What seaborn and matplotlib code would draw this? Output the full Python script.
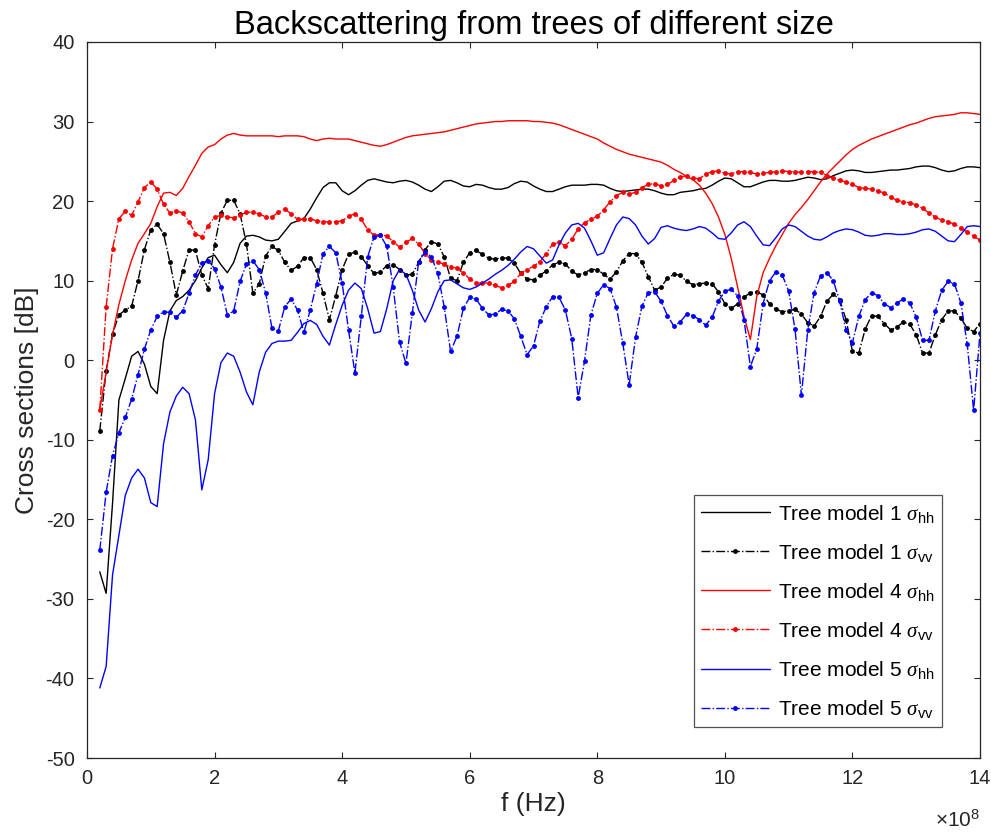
import numpy as np
import pandas as pd
import matplotlib
matplotlib.use("Agg")
import matplotlib.pyplot as plt
from matplotlib.ticker import FuncFormatter, MultipleLocator
import seaborn as sns

# Frequency grid (Hz): 0.2e8 ... 14e8 in steps of 0.1e8
freq = np.round(np.arange(2, 141) / 10.0, 1) * 1e8

tree1_hh = [-26.6, -29.3, -18.0, -5.0, -2.3, 0.5, 1.1, -0.5, -3.3, -4.2,
            2.5, 6.2, 7.5, 8.0, 8.8, 10.0, 11.6, 12.9, 13.2, 12.0,
            11.0, 12.3, 14.7, 15.6, 15.7, 15.5, 15.1, 15.0, 15.2, 16.2,
            17.2, 17.5, 17.8, 19.0, 20.4, 21.7, 22.3, 22.3, 21.3, 20.8,
            21.3, 22.0, 22.6, 22.8, 22.6, 22.4, 22.3, 22.5, 22.6, 22.4,
            22.0, 21.5, 21.2, 21.8, 22.5, 22.6, 22.3, 21.9, 21.8, 22.1,
            22.0, 21.7, 21.5, 21.5, 21.7, 22.2, 22.5, 22.4, 21.9, 21.5,
            21.2, 21.2, 21.5, 21.8, 22.0, 22.0, 22.0, 22.1, 22.1, 22.0,
            21.6, 21.3, 21.2, 21.3, 21.4, 21.5, 21.5, 21.3, 21.0, 20.8,
            20.8, 21.1, 21.2, 21.3, 21.5, 21.6, 22.0, 22.5, 22.9, 22.8,
            22.3, 21.8, 21.8, 22.1, 22.4, 22.6, 22.6, 22.5, 22.5, 22.6,
            22.8, 23.0, 22.9, 22.7, 22.8, 23.2, 23.5, 23.8, 23.9, 23.8,
            23.6, 23.6, 23.7, 23.8, 23.9, 23.9, 24.0, 24.1, 24.3, 24.4,
            24.4, 24.2, 23.9, 23.7, 23.8, 24.1, 24.3, 24.3, 24.2]

tree1_vv = [-8.9, -1.3, 3.3, 5.7, 6.3, 6.8, 10.0, 13.9, 16.4, 17.1,
            15.9, 12.3, 8.2, 11.2, 13.9, 13.8, 10.7, 9.0, 14.5, 18.5,
            20.1, 20.1, 18.4, 14.6, 8.4, 9.6, 13.1, 14.3, 13.8, 12.3,
            11.3, 11.8, 12.9, 12.9, 11.4, 8.4, 5.1, 8.1, 11.4, 13.3,
            13.6, 13.0, 11.9, 10.9, 11.1, 11.9, 12.0, 11.4, 10.7, 10.8,
            12.3, 13.9, 14.9, 14.6, 13.0, 10.3, 10.0, 12.3, 13.5, 13.8,
            13.3, 12.8, 12.7, 12.9, 12.8, 12.2, 10.9, 10.2, 10.1, 10.7,
            11.2, 12.0, 12.3, 12.1, 11.2, 10.7, 11.0, 11.4, 11.4, 10.8,
            10.2, 11.1, 12.5, 13.4, 13.4, 12.3, 10.5, 8.8, 9.2, 10.3,
            10.8, 10.7, 9.9, 9.5, 9.6, 9.7, 9.6, 8.6, 7.1, 6.5,
            7.1, 7.9, 8.5, 8.6, 8.2, 7.1, 6.4, 6.1, 6.2, 6.4,
            5.8, 4.7, 4.3, 5.5, 7.4, 8.3, 7.6, 5.1, 1.1, 0.9,
            3.9, 5.6, 5.5, 4.6, 3.8, 4.2, 4.8, 4.5, 3.2, 0.9,
            0.9, 3.2, 5.1, 6.2, 6.2, 5.3, 4.0, 3.6, 4.6]

tree4_hh = [-6.2, -1.5, 3.2, 7.0, 10.0, 12.6, 14.7, 15.9, 17.2, 19.3,
            21.0, 21.1, 20.7, 21.6, 23.1, 24.5, 26.0, 26.8, 27.1, 27.8,
            28.3, 28.5, 28.3, 28.2, 28.2, 28.2, 28.2, 28.2, 28.1, 28.2,
            28.2, 28.2, 28.1, 27.8, 27.6, 27.8, 27.9, 27.8, 27.8, 27.8,
            27.6, 27.4, 27.2, 27.0, 26.9, 27.1, 27.4, 27.7, 28.0, 28.2,
            28.3, 28.4, 28.5, 28.6, 28.7, 28.9, 29.1, 29.3, 29.5, 29.7,
            29.8, 29.9, 30.0, 30.0, 30.1, 30.1, 30.1, 30.1, 30.0, 30.0,
            29.9, 29.8, 29.6, 29.3, 29.0, 28.7, 28.4, 28.1, 27.8, 27.3,
            26.9, 26.5, 26.2, 25.9, 25.7, 25.5, 25.3, 25.1, 24.9, 24.5,
            24.0, 23.6, 23.1, 22.7, 22.0, 21.0, 19.7, 18.0, 15.8, 12.8,
            9.2, 5.5, 2.6, 8.0, 11.0, 12.8, 14.4, 15.8, 17.2, 18.3,
            19.2, 20.2, 21.3, 22.4, 23.4, 24.2, 25.0, 25.8, 26.5, 27.0,
            27.4, 27.8, 28.1, 28.4, 28.7, 29.0, 29.3, 29.6, 29.8, 30.1,
            30.4, 30.6, 30.7, 30.8, 30.9, 31.1, 31.1, 31.0, 30.9]

tree4_vv = [-6.2, 6.7, 14.0, 17.8, 18.7, 18.2, 19.9, 21.7, 22.4, 21.5,
            19.6, 18.5, 18.8, 18.5, 17.4, 15.9, 15.5, 16.9, 18.0, 18.2,
            18.0, 17.9, 18.2, 18.6, 18.6, 18.4, 18.0, 18.0, 18.6, 19.0,
            18.4, 17.7, 17.7, 17.8, 17.5, 17.4, 17.4, 17.4, 17.5, 18.1,
            18.4, 17.7, 16.4, 15.7, 15.8, 15.6, 14.9, 14.2, 14.8, 15.3,
            14.6, 13.4, 12.6, 12.3, 12.1, 11.7, 11.6, 11.0, 10.2, 9.7,
            9.7, 9.7, 9.4, 9.1, 9.4, 9.9, 10.9, 11.4, 11.8, 12.4,
            13.4, 14.6, 14.8, 14.4, 15.2, 16.5, 17.3, 17.7, 18.1, 18.9,
            19.9, 20.7, 21.1, 20.9, 21.1, 21.7, 22.1, 22.2, 21.9, 22.1,
            22.6, 23.0, 23.2, 22.9, 22.8, 23.4, 23.7, 23.8, 23.5, 23.4,
            23.7, 23.7, 23.6, 23.4, 23.5, 23.6, 23.7, 23.8, 23.7, 23.7,
            23.6, 23.7, 23.7, 23.6, 23.2, 22.9, 22.6, 22.4, 22.1, 21.7,
            21.6, 21.5, 21.3, 21.0, 20.5, 20.1, 19.9, 19.8, 19.5, 19.1,
            18.5, 18.0, 17.6, 17.4, 17.1, 16.6, 16.1, 15.6, 15.1]

tree5_hh = [-41.2, -38.5, -27.0, -22.0, -17.0, -14.8, -13.7, -14.8, -17.9, -18.4,
            -10.5, -6.5, -4.5, -3.4, -4.2, -7.5, -16.3, -12.5, -4.2, -0.3,
            0.9, 0.5, -1.5, -4.0, -5.6, -1.5, 1.0, 2.1, 2.4, 2.4,
            2.5, 3.5, 4.6, 5.0, 4.5, 3.0, 1.9, 4.5, 6.9, 8.8,
            9.7, 9.0, 6.5, 3.4, 3.6, 6.5, 10.0, 11.4, 10.8, 8.8,
            6.3, 4.8, 6.5, 8.6, 10.0, 10.1, 9.6, 9.1, 8.9, 9.2,
            9.7, 10.2, 10.8, 11.3, 11.9, 12.7, 13.6, 14.3, 14.0, 13.1,
            12.2, 12.6, 14.5, 16.0, 17.0, 17.2, 16.6, 15.0, 13.2, 13.5,
            15.3, 17.0, 18.0, 17.8, 17.0, 15.6, 14.6, 15.3, 16.7, 16.9,
            16.6, 16.4, 16.3, 16.5, 16.8, 16.6, 16.0, 15.3, 15.2, 16.0,
            17.0, 17.4, 16.8, 15.6, 14.5, 14.4, 15.4, 16.5, 17.0, 16.8,
            16.2, 15.6, 15.2, 15.1, 15.5, 16.0, 16.3, 16.5, 16.4, 16.1,
            15.7, 15.6, 15.7, 15.9, 15.9, 15.8, 15.8, 15.9, 16.1, 16.4,
            16.5, 16.2, 15.6, 15.0, 14.9, 15.8, 16.8, 16.9, 16.8]

tree5_vv = [-23.9, -16.6, -12.0, -9.1, -7.2, -4.9, -1.8, 1.4, 3.8, 5.5,
            6.1, 6.0, 5.4, 6.2, 8.4, 10.7, 12.2, 12.5, 11.5, 9.2,
            5.7, 6.2, 9.9, 12.1, 12.5, 11.4, 8.5, 4.0, 3.7, 6.7,
            7.7, 6.3, 3.5, 6.3, 9.6, 13.4, 14.3, 13.5, 9.7, 3.8,
            -1.6, 5.5, 13.0, 15.5, 15.7, 14.3, 9.2, 2.3, -0.4, 5.9,
            12.4, 13.6, 13.0, 10.9, 6.7, 1.1, 3.0, 6.5, 7.9, 7.7,
            6.5, 5.7, 5.8, 6.4, 6.2, 5.2, 3.0, 0.7, 1.8, 4.9,
            6.7, 8.0, 7.9, 6.3, 2.7, -4.7, -0.1, 5.7, 8.4, 9.5,
            9.0, 6.7, 2.1, -3.1, 2.9, 6.8, 8.5, 8.6, 7.4, 5.6,
            4.3, 4.8, 5.8, 5.6, 5.1, 4.4, 5.4, 7.4, 8.7, 8.9,
            8.1, 5.1, -0.8, 1.4, 7.1, 10.0, 11.1, 10.7, 8.7, 3.9,
            -4.4, 3.8, 8.5, 10.6, 11.0, 10.0, 7.4, 3.8, 2.2, 5.5,
            7.6, 8.5, 8.1, 7.1, 6.6, 7.2, 7.7, 7.2, 5.4, 2.5,
            2.5, 6.2, 8.8, 9.9, 9.6, 7.2, 2.0, -6.3, 3.4]

series = [
    ("Tree model 1 $\\sigma_{\\mathrm{hh}}$", tree1_hh, "#000000", "-", None),
    ("Tree model 1 $\\sigma_{\\mathrm{vv}}$", tree1_vv, "#000000", "-.", "."),
    ("Tree model 4 $\\sigma_{\\mathrm{hh}}$", tree4_hh, "#FF0000", "-", None),
    ("Tree model 4 $\\sigma_{\\mathrm{vv}}$", tree4_vv, "#FF0000", "-.", "."),
    ("Tree model 5 $\\sigma_{\\mathrm{hh}}$", tree5_hh, "#0000FF", "-", None),
    ("Tree model 5 $\\sigma_{\\mathrm{vv}}$", tree5_vv, "#0000FF", "-.", "."),
]

sns.set_theme(style="white")
plt.rcParams["font.family"] = ["Liberation Sans", "DejaVu Sans"]
plt.rcParams["mathtext.fontset"] = "custom"
plt.rcParams["mathtext.rm"] = "Liberation Sans"
plt.rcParams["mathtext.it"] = "Liberation Serif:italic"
plt.rcParams["axes.unicode_minus"] = False

axis_col = "#262626"
fig = plt.figure(figsize=(9.91, 8.36), dpi=100)
ax = fig.add_axes([0.0878, 0.0933, 0.9011, 0.8565])

for label, vals, col, ls, mk in series:
    df = pd.DataFrame({"f": freq, "sigma": vals})
    kw = dict(marker=mk, markersize=7, markeredgewidth=0) if mk else {}
    sns.lineplot(data=df, x="f", y="sigma", ax=ax, color=col, linestyle=ls,
                 linewidth=1.0, label=label, estimator=None, sort=False, **kw)

ax.set_xlim(0, 14e8)
ax.set_ylim(-50, 40)
ax.xaxis.set_major_locator(MultipleLocator(2e8))
ax.yaxis.set_major_locator(MultipleLocator(10))
ax.xaxis.set_major_formatter(FuncFormatter(lambda v, p: f"{v / 1e8:g}"))
ax.tick_params(direction="in", bottom=True, left=True, top=True, right=True,
               length=4.5, width=0.8, colors=axis_col, labelsize=14.5)
ax.tick_params(axis="x", pad=8)
ax.tick_params(axis="y", pad=9)
for s in ax.spines.values():
    s.set_color(axis_col)
    s.set_linewidth(0.9)

ax.set_title("Backscattering from trees of different size", fontsize=23.5,
             color="#000000", pad=6)
ax.set_xlabel("f (Hz)", fontsize=19, color=axis_col, labelpad=3)
ax.set_ylabel("Cross sections [dB]", fontsize=19, color=axis_col, labelpad=5)
ax.text(1.0, -0.087, "$\\times$10$^{8}$", transform=ax.transAxes, ha="right",
        va="center", fontsize=15, color=axis_col)

leg = ax.legend(loc="lower right", bbox_to_anchor=(0.957, 0.043),
                borderaxespad=0, fontsize=15, frameon=True, fancybox=False,
                handlelength=3.3, handletextpad=0.4, labelspacing=0.82,
                borderpad=0.35, numpoints=1)
leg.get_frame().set_edgecolor(axis_col)
leg.get_frame().set_linewidth(0.9)
for t in leg.get_texts():
    t.set_color("#000000")

fig.savefig("out.png", dpi=100, facecolor="white")
